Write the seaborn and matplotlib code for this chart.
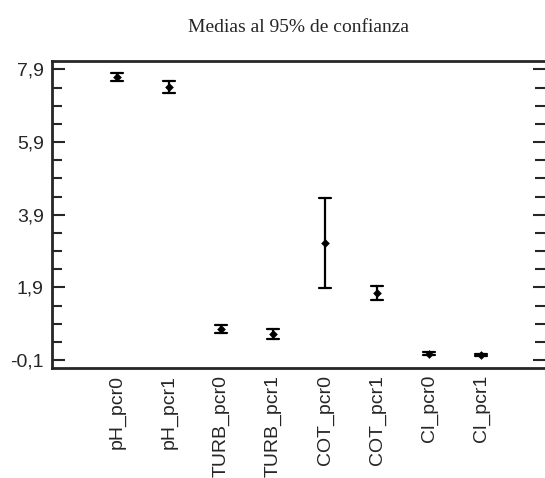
import matplotlib
matplotlib.use("Agg")
import matplotlib.pyplot as plt
from matplotlib.ticker import FixedLocator
import numpy as np
import pandas as pd
import seaborn as sns

# Means and 95% confidence half-widths per variable
categories = ["pH_pcr0", "pH_pcr1", "TURB_pcr0", "TURB_pcr1",
              "COT_pcr0", "COT_pcr1", "Cl_pcr0", "Cl_pcr1"]
means = [7.68, 7.42, 0.76, 0.615, 3.13, 1.75, 0.08, 0.045]
half_widths = [0.11, 0.17, 0.11, 0.14, 1.24, 0.19, 0.045, 0.02]
y_tick_values = [-0.1, 1.9, 3.9, 5.9, 7.9]
y_tick_labels = ["-0,1", "1,9", "3,9", "5,9", "7,9"]

# Lower/upper limits around each mean; a 100% percentile interval spans them
rows = []
for c, m, h in zip(categories, means, half_widths):
    rows.append({"var": c, "value": m - h})
    rows.append({"var": c, "value": m + h})
df = pd.DataFrame(rows)

sns.set_style("ticks")
plt.rcParams["font.family"] = ["Liberation Sans", "DejaVu Sans"]

fig = plt.figure(figsize=(5.45, 4.78), dpi=100)
ax = fig.add_axes([52 / 545, 1 - 367.7 / 478, 1 - 52 / 545, (367.7 - 61) / 478])

sns.pointplot(data=df, x="var", y="value", order=categories,
              estimator="mean", errorbar=("pi", 100), linestyle="none",
              color="black", marker="D", markersize=2.4, capsize=0.23,
              err_kws={"linewidth": 1.6}, ax=ax)

ax.set_xlim(-1.25, 8.23)
ax.set_ylim(-0.31, 8.13)
ax.set_xlabel("")
ax.set_ylabel("")

ax.yaxis.set_major_locator(FixedLocator(y_tick_values))
ax.set_yticklabels(y_tick_labels, fontsize=14)
ax.yaxis.set_minor_locator(FixedLocator(np.arange(-0.1, 8.0, 0.5)))
ax.tick_params(axis="y", which="major", direction="in", length=9, width=1.5,
               right=True, pad=6)
ax.tick_params(axis="y", which="minor", direction="in", length=7, width=1.5,
               right=True)
ax.tick_params(axis="x", length=0, pad=5, labelsize=14, rotation=90)

for side in ["left", "top", "bottom"]:
    ax.spines[side].set_linewidth(2)
ax.spines["right"].set_visible(False)

fig.text(299 / 545, 1 - 27 / 478, "Medias al 95% de confianza",
         ha="center", va="center", fontsize=14,
         family=["Liberation Serif", "DejaVu Serif"])

fig.savefig("out.png", dpi=100)
